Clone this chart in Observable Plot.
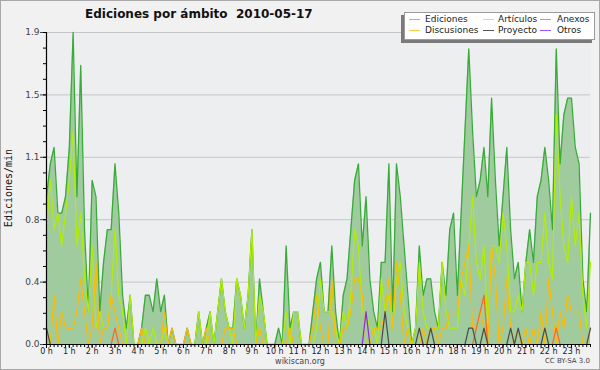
<!DOCTYPE html>
<html><head><meta charset="utf-8">
<script src="https://cdn.jsdelivr.net/npm/d3@7"></script>
<script src="https://cdn.jsdelivr.net/npm/@observablehq/plot@0.6"></script>
<style>
html,body{margin:0;padding:0;background:#f1f1f1;}
#wrap{position:relative;width:600px;height:370px;overflow:hidden;background:#f1f1f1;}
#wrap svg{position:absolute;left:0;top:0;}
.t{position:absolute;white-space:nowrap;line-height:1;font-family:"DejaVu Sans",sans-serif;color:#222;}
#border{position:absolute;left:0;top:0;width:598px;height:368px;border:1px solid #a8a8a8;pointer-events:none;}
#legend{position:absolute;left:404px;top:12px;width:189px;height:26px;background:#fff;border:1px solid #9a9a9a;box-shadow:-3px 3px 0 #7a7a7a;}
.sw{position:absolute;height:1px;width:11px;}
</style></head><body>
<div id="wrap"></div>
<script>
// 10-minute intervals, 0 h .. 23 h 50
const hourLabels = d3.range(24).map(h => h + " h");
const ediciones = [
 0.9,1.1,1.2,0.8,0.8,0.9, 1.2,1.9,0.9,1.7,0.7,0.2, 1.0,0.9,0.2,0.5,0.7,0.7, 1.1,0.8,0.3,0.1,0.3,0.0,
 0.0,0.1,0.3,0.3,0.2,0.4, 0.2,0.3,0.0,0.1,0.0,0.0, 0.0,0.1,0.0,0.0,0.2,0.0, 0.1,0.2,0.0,0.2,0.4,0.2,
 0.1,0.1,0.4,0.3,0.1,0.3, 0.7,0.0,0.4,0.2,0.0,0.0, 0.0,0.1,0.0,0.6,0.1,0.2, 0.2,0.0,0.0,0.0,0.2,0.4,
 0.5,0.2,0.2,0.6,0.2,0.0, 0.3,0.4,0.7,1.0,1.1,0.6, 0.9,0.4,0.2,0.1,0.5,0.5, 1.1,0.2,1.1,0.9,0.6,0.3,
 0.0,0.1,0.6,0.3,0.4,0.4, 0.2,0.1,0.5,0.3,0.7,0.8, 0.3,0.8,1.3,1.8,1.3,0.9, 1.0,1.2,0.9,1.5,1.0,0.6,
 0.9,1.2,0.7,0.4,0.5,0.2, 0.5,0.7,0.5,0.9,1.0,1.2, 1.0,0.7,1.8,1.1,1.4,1.5, 1.5,1.2,1.1,0.4,0.2,0.8
];
const articulos = [
 0.7,1.0,0.7,0.8,0.6,0.8, 1.0,1.3,0.6,0.8,0.4,0.2, 0.6,0.1,0.2,0.1,0.1,0.3, 0.7,0.3,0.2,0.0,0.3,0.0,
 0.0,0.0,0.1,0.0,0.1,0.0, 0.0,0.1,0.0,0.0,0.0,0.0, 0.0,0.0,0.0,0.0,0.2,0.0, 0.0,0.2,0.0,0.2,0.4,0.2,
 0.1,0.0,0.4,0.3,0.1,0.3, 0.7,0.0,0.3,0.2,0.0,0.0, 0.0,0.0,0.0,0.2,0.0,0.2, 0.2,0.0,0.0,0.0,0.0,0.1,
 0.4,0.2,0.2,0.2,0.1,0.0, 0.2,0.1,0.3,0.7,0.6,0.2, 0.2,0.1,0.1,0.0,0.4,0.2, 0.3,0.1,0.4,0.5,0.2,0.1,
 0.0,0.1,0.5,0.2,0.1,0.1, 0.1,0.1,0.5,0.2,0.1,0.1, 0.1,0.4,0.3,0.6,0.9,0.5, 0.4,0.6,0.1,0.6,0.6,0.5,
 0.8,0.6,0.2,0.2,0.3,0.2, 0.5,0.5,0.3,0.5,0.5,0.8, 0.5,0.4,1.4,0.9,0.6,0.5, 0.9,0.6,0.8,0.3,0.1,0.5
];
const discusiones = [
 0.0,0.0,0.3,0.0,0.2,0.1, 0.1,0.1,0.2,0.4,0.2,0.0, 0.1,0.5,0.0,0.1,0.1,0.3, 0.2,0.1,0.0,0.0,0.0,0.0,
 0.0,0.1,0.0,0.0,0.0,0.0, 0.0,0.2,0.0,0.1,0.0,0.0, 0.0,0.1,0.0,0.0,0.0,0.0, 0.1,0.0,0.0,0.0,0.0,0.1,
 0.1,0.1,0.0,0.0,0.0,0.0, 0.0,0.0,0.1,0.0,0.0,0.0, 0.0,0.0,0.0,0.0,0.1,0.0, 0.0,0.0,0.0,0.0,0.1,0.3,
 0.1,0.0,0.0,0.4,0.0,0.0, 0.1,0.1,0.2,0.4,0.4,0.3, 0.0,0.0,0.1,0.1,0.1,0.2, 0.4,0.1,0.5,0.3,0.0,0.1,
 0.0,0.0,0.0,0.1,0.0,0.1, 0.1,0.0,0.1,0.1,0.2,0.2, 0.2,0.4,0.5,0.6,0.1,0.1, 0.2,0.1,0.0,0.6,0.4,0.0,
 0.1,0.4,0.1,0.0,0.1,0.0, 0.1,0.0,0.1,0.0,0.2,0.0, 0.4,0.2,0.0,0.2,0.1,0.3, 0.2,0.2,0.2,0.0,0.0,0.1
];
const anexos = [
 0,0,0,0,0,0, 0,0,0,0,0,0, 0,0,0,0,0,0, 0.1,0,0,0,0,0,
 0,0,0,0,0,0, 0,0,0,0,0,0, 0,0,0,0,0,0, 0,0,0,0,0,0,
 0,0,0,0,0,0, 0,0,0,0,0,0, 0,0,0,0,0,0, 0,0,0,0,0,0,
 0,0,0,0,0,0, 0,0,0,0,0,0, 0,0,0,0,0,0, 0,0,0,0,0,0,
 0,0,0,0,0,0, 0,0,0,0,0,0, 0,0,0,0,0,0.1, 0.2,0.3,0,0,0,0,
 0,0,0,0,0,0, 0,0,0,0,0,0, 0,0,0.1,0,0,0, 0,0,0,0,0,0
];
const proyecto = [
 0.1,0,0,0,0,0, 0,0,0,0,0,0, 0,0,0,0,0,0, 0,0,0,0,0,0,
 0,0,0,0,0,0, 0,0,0,0,0,0, 0,0,0,0,0,0, 0,0,0,0,0,0,
 0,0,0,0,0,0, 0,0,0,0,0,0, 0,0,0,0,0,0, 0,0,0,0,0,0,
 0,0,0,0,0,0, 0,0,0,0,0,0, 0,0,0,0,0,0.2, 0,0,0,0,0,0,
 0,0,0.1,0,0,0.1, 0,0,0,0,0,0, 0,0,0,0.1,0.1,0, 0,0.1,0,0,0,0,
 0,0,0.1,0,0.1,0, 0,0,0,0,0,0.1, 0,0,0,0,0,0, 0,0,0,0,0,0.1
];
const otros = [
 0,0,0,0,0,0, 0,0,0,0,0,0, 0,0,0,0,0,0, 0,0,0,0,0,0,
 0,0,0,0,0,0, 0,0,0,0,0,0, 0,0,0,0,0,0, 0,0,0,0,0,0,
 0,0,0,0,0,0, 0,0,0,0,0,0, 0,0,0,0,0,0, 0,0,0,0,0,0,
 0,0,0,0,0,0, 0,0,0,0,0,0, 0.2,0,0,0,0,0, 0,0,0,0,0,0,
 0,0,0,0,0,0, 0,0,0,0,0,0, 0,0,0,0,0,0, 0,0,0,0,0,0,
 0,0,0,0,0,0, 0,0,0,0,0,0, 0,0,0,0,0,0, 0,0,0,0,0,0
];
const yMax = 1.9;
const seriesNames = ["Ediciones","Artículos","Anexos","Discusiones","Proyecto","Otros"];
const seriesColors = ["#3aab3a","#b2ee00","#ff6622","#ffbb00","#4a4a4a","#8a2be2"];
const legendSwatch = ["#88cc88","#ccee66","#ff8855","#ffcc44","#555555","#9955ff"];

const N = ediciones.length;
const rows = vals => vals.map((v, i) => ({i, v}));
const yMajor = d3.range(6).map(k => +(k * yMax / 5).toFixed(4));
const yMinor = d3.range(21).map(k => +(k * yMax / 20).toFixed(4));
const xMajor = d3.range(0, N, 6);
const xMinor = d3.range(N);

const chart = Plot.plot({
  width: 600, height: 370,
  marginLeft: 46, marginRight: 10, marginTop: 32, marginBottom: 26,
  style: {background: "transparent", fontFamily: "'DejaVu Sans', sans-serif", fontSize: "9px", color: "#222", overflow: "visible"},
  x: {domain: [0, N - 1], axis: null},
  y: {domain: [0, yMax], axis: null},
  marks: [
    Plot.frame({fill: "#edeef0", stroke: "none"}),
    Plot.gridY(yMajor.slice(1), {stroke: "#c6c6c6", strokeOpacity: 1, strokeWidth: 1}),
    Plot.areaY(rows(ediciones), {x: "i", y: "v", fill: "#9fcb9f"}),
    Plot.lineY(rows(ediciones), {x: "i", y: "v", stroke: seriesColors[0], strokeWidth: 1.3}),
    Plot.lineY(rows(articulos), {x: "i", y: "v", stroke: seriesColors[1], strokeWidth: 1.2}),
    Plot.lineY(rows(discusiones), {x: "i", y: "v", stroke: seriesColors[3], strokeWidth: 1.2}),
    Plot.lineY(rows(anexos), {x: "i", y: "v", stroke: seriesColors[2], strokeWidth: 1.2}),
    Plot.lineY(rows(proyecto), {x: "i", y: "v", stroke: seriesColors[4], strokeWidth: 1.2}),
    Plot.lineY(rows(otros), {x: "i", y: "v", stroke: seriesColors[5], strokeWidth: 1.2}),
    Plot.ruleY([0], {stroke: "#000", strokeWidth: 1.2}),
    Plot.ruleX([0], {stroke: "#000", strokeWidth: 1.2}),
    Plot.axisY(yMajor, {anchor: "left", tickSize: 6, tickPadding: 1, tickFormat: d3.format(".1f"), fontSize: 9, label: null, color: "#444"}),
    Plot.axisY(yMinor, {anchor: "left", tickSize: 3, tickFormat: () => "", label: null, stroke: "#000"}),
    Plot.axisX(xMajor, {anchor: "bottom", tickSize: 4, tickPadding: 0, tickFormat: i => hourLabels[i / 6], fontSize: 8, label: null, stroke: "#000"}),
    Plot.axisX(xMinor, {anchor: "bottom", tickSize: 3, tickFormat: () => "", label: null, stroke: "#000"})
  ]
});
const wrap = document.getElementById("wrap");
wrap.appendChild(chart);

function addText(txt, css) {
  const d = document.createElement("div");
  d.className = "t";
  d.textContent = txt;
  Object.assign(d.style, css);
  wrap.appendChild(d);
  return d;
}
addText("Ediciones por ámbito  2010-05-17", {left: "85px", top: "8px", fontSize: "12px", fontWeight: "bold", color: "#111", whiteSpace: "pre"});
addText("Ediciones/min", {left: "9px", top: "188px", fontSize: "10px", fontFamily: "'DejaVu Sans Mono', monospace", transform: "translate(-50%,-50%) rotate(-90deg)", color: "#111"});
addText("wikiscan.org", {left: "300px", top: "358px", fontSize: "8px", transform: "translateX(-50%)", color: "#444"});
addText("CC BY-SA 3.0", {right: "10px", top: "358px", fontSize: "7px", color: "#444"});

const legend = document.createElement("div");
legend.id = "legend";
wrap.appendChild(legend);
const cols = [[4, 20], [78, 93], [135, 152]];
seriesNames.forEach((name, k) => {
  const col = cols[k % 3], row = Math.floor(k / 3);
  const sw = document.createElement("div");
  sw.className = "sw";
  sw.style.left = col[0] + "px";
  sw.style.top = (6 + row * 10.5) + "px";
  sw.style.background = legendSwatch[k];
  legend.appendChild(sw);
  const t = document.createElement("div");
  t.className = "t";
  t.textContent = name;
  Object.assign(t.style, {left: col[1] + "px", top: (2 + row * 10.5) + "px", fontSize: "9px", color: "#222"});
  legend.appendChild(t);
});
const b = document.createElement("div");
b.id = "border";
wrap.appendChild(b);
</script>
</body></html>
